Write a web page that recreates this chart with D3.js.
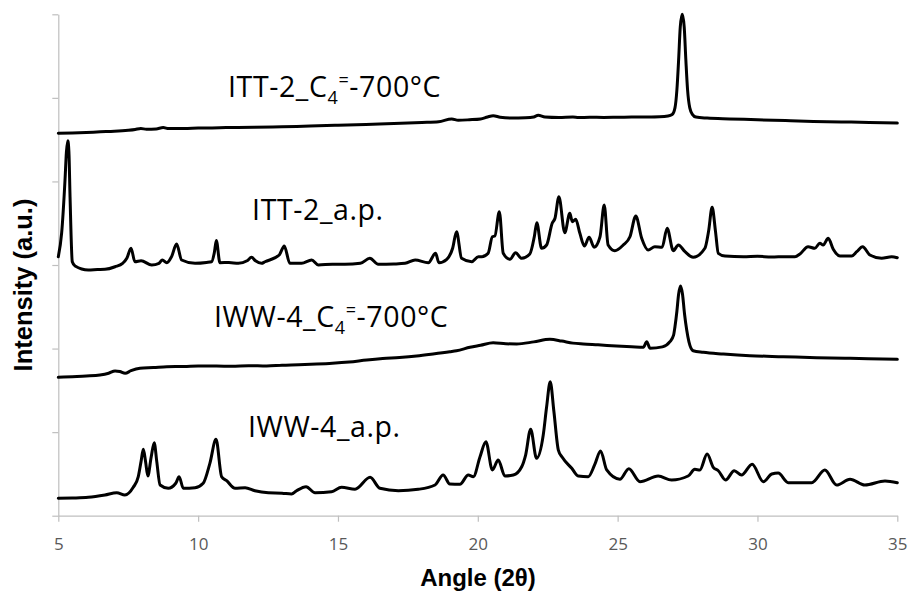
<!DOCTYPE html>
<html>
<head>
<meta charset="utf-8">
<script src="https://cdn.jsdelivr.net/npm/d3@7"></script>
<style>
  body { margin: 0; background: #fff; }
  svg { display: block; }
</style>
</head>
<body>
<svg id="chart" width="909" height="596"></svg>
<script>
// XRD patterns, [2θ (deg), intensity (a.u., stacked offset included)]
const ittCalcined = [
  [5.0,4.576],[5.5,4.580],[6.0,4.586],[6.5,4.594],[7.0,4.600],[7.5,4.612],[7.75,4.622],[7.95,4.634],
  [8.15,4.624],[8.5,4.628],[8.75,4.645],[8.95,4.632],[9.5,4.632],[10.0,4.638],[10.5,4.640],[11.0,4.644],
  [12.0,4.648],[13.0,4.655],[14.0,4.662],[15.0,4.672],[16.0,4.682],[17.0,4.692],[18.0,4.705],[18.6,4.715],
  [19.07,4.748],[19.3,4.732],[19.7,4.738],[20.1,4.748],[20.35,4.772],[20.55,4.786],[20.8,4.768],[21.2,4.758],
  [21.7,4.762],[22.0,4.772],[22.16,4.792],[22.4,4.770],[22.9,4.764],[23.4,4.770],[23.6,4.765],[24.0,4.768],
  [24.5,4.766],[25.0,4.768],[25.5,4.770],[26.0,4.771],[26.5,4.774],[26.8,4.782],[26.95,4.800],[27.05,4.880],
  [27.12,5.100],[27.18,5.450],[27.24,5.850],[27.31,6.000],[27.38,5.850],[27.44,5.450],[27.5,5.100],[27.58,4.880],
  [27.68,4.800],[27.8,4.770],[28.2,4.758],[29.0,4.748],[30.0,4.738],[31.0,4.728],[32.0,4.718],[33.0,4.712],
  [34.0,4.706],[35.0,4.698]
];

const ittAsPrepared = [
  [5.0,3.099],[5.12,3.383],[5.24,4.017],[5.29,4.350],[5.34,4.487],[5.38,4.350],[5.42,3.817],[5.50,3.039],
  [5.60,2.988],[6.07,2.940],[6.4,2.945],[6.67,2.948],[7.03,2.979],[7.3,3.020],[7.45,3.080],[7.60,3.200],
  [7.74,3.039],[7.96,3.051],[8.34,3.000],[8.60,3.020],[8.72,3.060],[8.88,3.027],[9.05,3.100],[9.23,3.251],
  [9.41,3.060],[9.89,3.020],[10.3,3.030],[10.48,3.039],[10.58,3.150],[10.65,3.293],[10.78,3.027],[11.1,3.030],
  [11.44,3.020],[11.75,3.050],[11.91,3.092],[12.05,3.050],[12.27,3.020],[12.39,3.039],[12.9,3.120],[13.08,3.227],
  [13.28,3.020],[13.70,3.020],[14.06,3.060],[14.30,3.000],[14.8,3.010],[15.25,3.008],[15.8,3.020],[16.14,3.080],
  [16.44,3.008],[17.0,3.012],[17.40,3.020],[17.76,3.060],[18.23,3.027],[18.49,3.140],[18.61,3.027],[18.89,3.068],
  [19.1,3.200],[19.24,3.398],[19.42,3.080],[19.78,3.039],[20.02,3.099],[20.14,3.099],[20.37,3.140],[20.52,3.338],
  [20.61,3.347],[20.77,3.638],[20.91,3.140],[21.15,3.068],[21.35,3.147],[21.57,3.080],[21.86,3.132],[22.02,3.338],
  [22.11,3.506],[22.28,3.200],[22.46,3.239],[22.66,3.499],[22.76,3.559],[22.90,3.817],[23.11,3.386],[23.29,3.619],
  [23.38,3.518],[23.50,3.547],[23.65,3.379],[23.81,3.227],[23.98,3.331],[24.16,3.212],[24.37,3.338],[24.52,3.717],
  [24.66,3.239],[24.90,3.171],[25.20,3.239],[25.44,3.338],[25.65,3.586],[25.86,3.319],[26.09,3.179],[26.33,3.219],
  [26.59,3.212],[26.77,3.439],[26.99,3.171],[27.17,3.239],[27.41,3.159],[27.70,3.092],[28.12,3.200],[28.25,3.400],
  [28.38,3.690],[28.50,3.400],[28.60,3.140],[28.84,3.108],[29.5,3.100],[30.0,3.105],[30.5,3.095],[31.0,3.100],
  [31.34,3.099],[31.52,3.132],[31.81,3.219],[32.05,3.200],[32.23,3.260],[32.35,3.239],[32.53,3.319],[32.71,3.188],
  [32.95,3.108],[33.37,3.108],[33.55,3.159],[33.76,3.219],[34.02,3.120],[34.44,3.080],[34.80,3.099],[35.0,3.087]
];

const iwwCalcined = [
  [5.0,1.656],[5.5,1.664],[6.0,1.672],[6.49,1.684],[6.8,1.705],[7.03,1.732],[7.2,1.725],[7.39,1.704],
  [7.6,1.735],[7.92,1.764],[8.4,1.772],[8.88,1.783],[9.5,1.785],[10.0,1.790],[10.66,1.791],[11.2,1.788],
  [11.8,1.795],[12.45,1.791],[13.0,1.800],[13.6,1.806],[14.24,1.815],[14.8,1.825],[15.4,1.840],[16.03,1.863],
  [16.6,1.880],[17.2,1.893],[17.81,1.911],[18.4,1.935],[19.0,1.962],[19.24,1.974],[19.72,2.015],[20.1,2.040],
  [20.55,2.070],[21.0,2.058],[21.39,2.055],[22.0,2.080],[22.58,2.111],[23.0,2.090],[23.4,2.065],[23.77,2.055],
  [24.3,2.045],[24.96,2.031],[25.5,2.022],[25.92,2.015],[26.04,2.082],[26.16,2.003],[26.6,2.020],[26.87,2.082],
  [27.0,2.160],[27.05,2.262],[27.12,2.450],[27.18,2.650],[27.25,2.749],[27.32,2.650],[27.39,2.420],[27.47,2.222],
  [27.55,2.080],[27.70,1.974],[28.06,1.955],[28.78,1.935],[29.73,1.915],[30.92,1.903],[32.11,1.891],[33.31,1.883],
  [35.0,1.871]
];

const iwwAsPrepared = [
  [5.0,0.208],[5.5,0.212],[6.07,0.220],[6.67,0.248],[7.09,0.275],[7.38,0.248],[7.68,0.340],[7.86,0.467],
  [7.96,0.650],[8.04,0.795],[8.12,0.650],[8.20,0.475],[8.32,0.700],[8.43,0.874],[8.52,0.650],[8.64,0.367],
  [8.93,0.328],[9.20,0.388],[9.32,0.467],[9.47,0.328],[9.89,0.335],[10.18,0.388],[10.42,0.627],[10.64,0.914],
  [10.84,0.467],[11.02,0.419],[11.32,0.328],[11.68,0.335],[12.03,0.299],[12.51,0.275],[13.0,0.270],[13.34,0.260],
  [13.52,0.299],[13.86,0.347],[14.18,0.275],[14.77,0.287],[15.13,0.340],[15.61,0.316],[16.15,0.459],[16.50,0.328],
  [17.16,0.299],[17.87,0.316],[18.47,0.367],[18.76,0.487],[19.00,0.379],[19.36,0.376],[19.66,0.487],[19.84,0.467],
  [20.08,0.706],[20.29,0.885],[20.52,0.547],[20.73,0.667],[20.97,0.475],[21.27,0.487],[21.57,0.586],[21.71,0.726],
  [21.89,1.034],[22.10,0.687],[22.34,0.966],[22.46,1.300],[22.59,1.603],[22.72,1.250],[22.88,0.786],[23.02,0.699],
  [23.36,0.567],[23.59,0.475],[23.95,0.467],[24.18,0.610],[24.39,0.774],[24.61,0.547],[25.08,0.436],[25.40,0.562],
  [25.80,0.407],[26.45,0.475],[26.93,0.427],[27.52,0.475],[27.76,0.555],[27.94,0.547],[28.20,0.738],[28.42,0.579],
  [28.60,0.538],[28.86,0.427],[29.17,0.538],[29.43,0.487],[29.81,0.615],[30.21,0.407],[30.51,0.499],[30.74,0.510],
  [31.10,0.395],[31.94,0.395],[32.41,0.547],[32.83,0.367],[33.31,0.436],[33.84,0.367],[34.56,0.415],[35.0,0.395]
];

const xTickValues = [5, 10, 15, 20, 25, 30, 35];
const yTickValues = [0, 1, 2, 3, 4, 5, 6];

// Sample names; each piece is [text, role] where role is "", "sub" or "sup"
const ittCalcinedName = [["ITT-2_C", ""], ["4", "sub"], ["=", "sup"], ["-700°C", ""]];
const ittAsPreparedName = [["ITT-2_a.p.", ""]];
const iwwCalcinedName = [["IWW-4_C", ""], ["4", "sub"], ["=", "sup"], ["-700°C", ""]];
const iwwAsPreparedName = [["IWW-4_a.p.", ""]];

const xTitle = "Angle (2θ)";
const yTitle = "Intensity (a.u.)";

// ---- drawing ----
const svg = d3.select("#chart");
const plotLeft = 58.3, plotRight = 897.3, plotTop = 14.3, plotBottom = 515.7;

const x = d3.scaleLinear().domain([5, 35]).range([plotLeft, plotRight]);
const y = d3.scaleLinear().domain([0, 6]).range([plotBottom, plotTop]);

const axisColor = "#bfbfbf";

// x axis
const gx = svg.append("g")
  .attr("transform", `translate(0,${plotBottom})`)
  .call(d3.axisBottom(x).tickValues(xTickValues).tickSize(6).tickSizeOuter(0).tickFormat(d3.format("d")));
gx.select(".domain").attr("stroke", axisColor).attr("stroke-width", 1.2);
gx.selectAll(".tick line").attr("stroke", axisColor).attr("stroke-width", 1.2);
gx.selectAll(".tick text")
  .attr("y", 34.5).attr("dy", 0)
  .attr("fill", "#595959")
  .style("font-family", "'Open Sans', sans-serif")
  .style("font-size", "17px");

// y axis (ticks only, no labels)
const gy = svg.append("g")
  .attr("transform", `translate(${plotLeft},0)`)
  .call(d3.axisLeft(y).tickValues(yTickValues).tickSize(6).tickSizeOuter(0).tickFormat(""));
gy.select(".domain").attr("stroke", axisColor).attr("stroke-width", 1.2);
gy.selectAll(".tick line").attr("stroke", axisColor).attr("stroke-width", 1.2);

// axis titles
svg.append("text")
  .attr("x", 478).attr("y", 586)
  .attr("text-anchor", "middle")
  .style("font-family", "'Liberation Sans', Arial, sans-serif")
  .style("font-weight", "bold")
  .style("font-size", "24px")
  .attr("fill", "#000")
  .text(xTitle);

svg.append("text")
  .attr("transform", "translate(32,285) rotate(-90)")
  .attr("text-anchor", "middle")
  .style("font-family", "'Liberation Sans', Arial, sans-serif")
  .style("font-weight", "bold")
  .style("font-size", "25.5px")
  .attr("fill", "#000")
  .text(yTitle);

// patterns
const line = d3.line()
  .x(d => x(d[0]))
  .y(d => y(d[1]))
  .curve(d3.curveMonotoneX);

const patterns = [ittCalcined, ittAsPrepared, iwwCalcined, iwwAsPrepared];
svg.append("g")
  .selectAll("path")
  .data(patterns)
  .join("path")
  .attr("d", line)
  .attr("fill", "none")
  .attr("stroke", "#000")
  .attr("stroke-width", 3)
  .attr("stroke-linejoin", "round")
  .attr("stroke-linecap", "round");

// sample names, anchored in data coordinates
const names = [
  { parts: ittCalcinedName, at: [11.07, 5.016] },
  { parts: ittAsPreparedName, at: [11.93, 3.538] },
  { parts: iwwCalcinedName, at: [10.57, 2.255] },
  { parts: iwwAsPreparedName, at: [11.78, 0.945] }
];

names.forEach(n => {
  const t = svg.append("text")
    .attr("x", x(n.at[0]))
    .attr("y", y(n.at[1]))
    .style("font-family", "'Open Sans', sans-serif")
    .style("font-size", "28.5px")
    .style("letter-spacing", "0.6px")
    .attr("fill", "#000");
  n.parts.forEach(([txt, role]) => {
    const s = t.append("tspan").text(txt);
    if (role === "sub") {
      s.attr("dy", 7).style("font-size", "18px");
    } else if (role === "sup") {
      s.attr("dy", -18).style("font-size", "18px");
    } else if (t.selectAll("tspan").size() > 1) {
      s.attr("dy", 11);
    }
  });
});
</script>
</body>
</html>
